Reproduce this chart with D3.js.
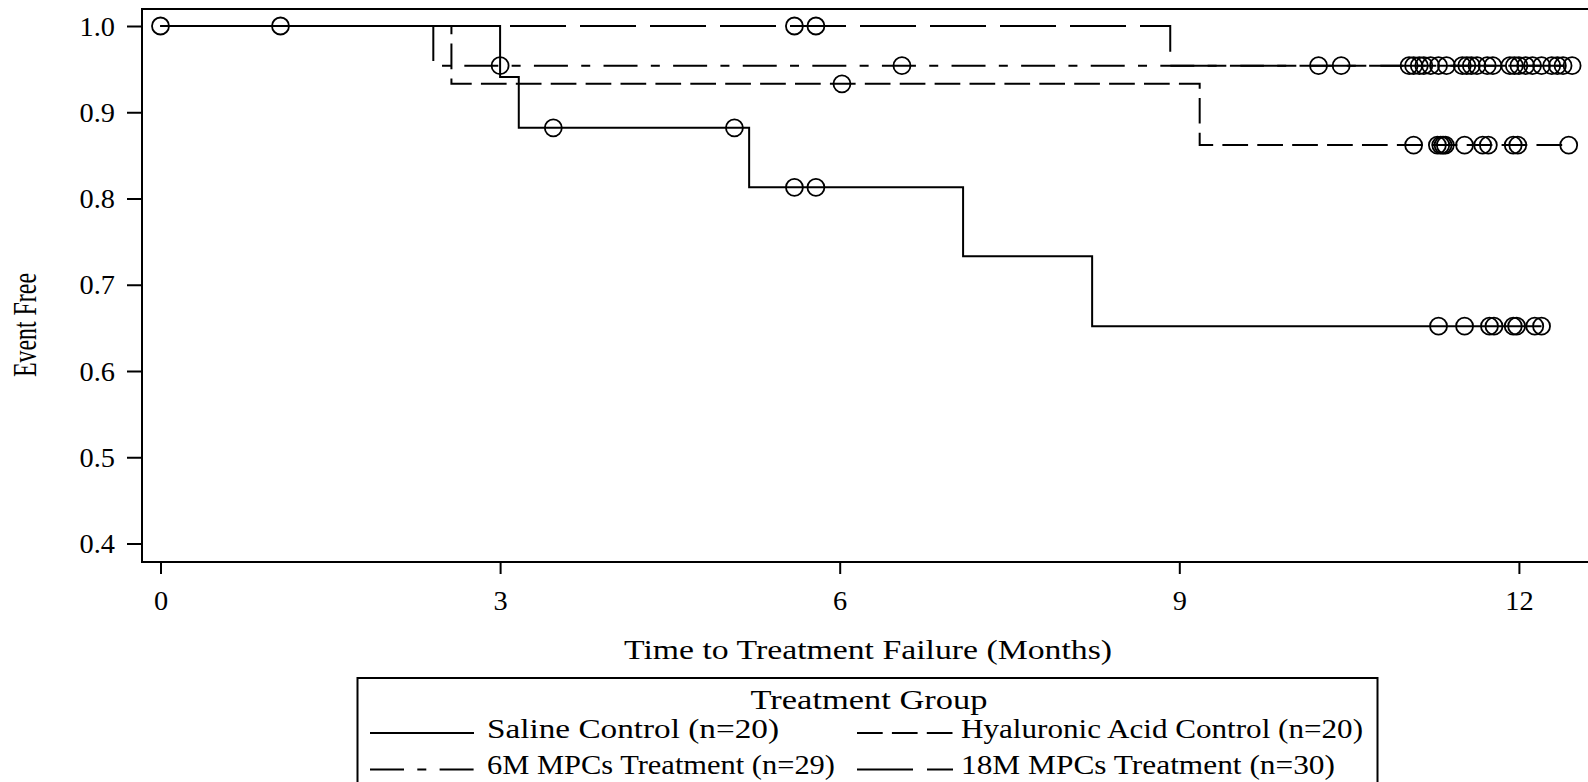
<!DOCTYPE html>
<html>
<head>
<meta charset="utf-8">
<script src="https://cdn.jsdelivr.net/npm/d3@7"></script>
<style>
  html, body { margin: 0; padding: 0; background: #fff; }
  svg { display: block; }
  text { font-family: "Liberation Serif", "Times New Roman", serif; fill: #000; }
</style>
</head>
<body>
<svg id="chart" width="1588" height="782"></svg>
<script>
// ---------------- DATA ----------------
const groupNames = ["Saline Control (n=20)", "Hyaluronic Acid Control (n=20)",
                    "6M MPCs Treatment (n=29)", "18M MPCs Treatment (n=30)"];
const legendTitle = "Treatment Group";
const xTitle = "Time to Treatment Failure (Months)";
const yTitle = "Event Free";
const xTicks = [0, 3, 6, 9, 12];
const yTicks = [0.4, 0.5, 0.6, 0.7, 0.8, 0.9, 1.0];

// step curves: time of each step and survival value from that time on
const salineTimes = [0, 3.0, 3.165, 5.20, 7.09, 8.23, 12.20];
const salineSurv  = [1.0, 0.941, 0.882, 0.813, 0.733, 0.652, 0.652];
const salineCensor = [0, 1.06, 3.47, 5.07, 5.60, 5.79, 11.29, 11.52, 11.74, 11.78, 11.95, 11.98, 12.14, 12.20];

const hyalTimes = [0, 2.57, 9.18, 12.44];
const hyalSurv  = [1.0, 0.933, 0.862, 0.862];
const hyalCensor = [6.02, 11.07, 11.28, 11.31, 11.33, 11.35, 11.52, 11.68, 11.73, 11.95, 11.99, 12.44];

const m6Times = [0, 2.41, 12.47];
const m6Surv  = [1.0, 0.954, 0.954];
const m6Censor = [3.0, 6.55, 11.03, 11.12, 11.22, 11.36, 11.54, 11.63, 11.77, 11.96, 12.06, 12.20, 12.34, 12.47];

const m18Times = [0, 8.92, 12.39];
const m18Surv  = [1.0, 0.954, 0.954];
const m18Censor = [5.60, 5.79, 10.23, 10.43, 11.07, 11.16, 11.29, 11.50, 11.58, 11.72, 11.92, 12.00, 12.12, 12.29, 12.39];

// ---------------- STYLE ----------------
const dashes  = [null, "25.7,9.2", "34,13.3,9,13.3", "56,14"];
const offsets = [0, 5.7, 4.5, 0.5];
const FS = 27;

const series = [
  {times: salineTimes, surv: salineSurv, censor: salineCensor},
  {times: hyalTimes,   surv: hyalSurv,   censor: hyalCensor},
  {times: m6Times,     surv: m6Surv,     censor: m6Censor},
  {times: m18Times,    surv: m18Surv,    censor: m18Censor}
];

const svg = d3.select("#chart");
const frame = {left: 142, right: 1600, top: 9, bottom: 562};

const x = d3.scaleLinear().domain([0, 12]).range([160.5, 160.5 + 113.2 * 12]);
const y = d3.scaleLinear().domain([0.4, 1.0]).range([543.5, 26]);

function survAt(s, t) {
  let v = s.surv[0];
  for (let i = 0; i < s.times.length; i++) if (s.times[i] <= t + 1e-9) v = s.surv[i];
  return v;
}

const plot = svg.append("g");

// curves
const line = d3.line().x(d => x(d[0])).y(d => y(d[1])).curve(d3.curveStepAfter);
series.forEach((s, i) => {
  const pts = s.times.map((t, k) => [t, s.surv[k]]);
  plot.append("path")
    .attr("d", line(pts))
    .attr("fill", "none")
    .attr("stroke", "#000")
    .attr("stroke-width", 2)
    .attr("stroke-dasharray", dashes[i])
    .attr("stroke-dashoffset", offsets[i]);
});

// censor circles
series.forEach((s, i) => {
  plot.selectAll(null).data(s.censor).enter().append("circle")
    .attr("cx", t => x(t))
    .attr("cy", t => y(survAt(s, t)))
    .attr("r", 8.5)
    .attr("fill", "none")
    .attr("stroke", "#000")
    .attr("stroke-width", 1.8);
});

// frame
svg.append("rect")
  .attr("x", frame.left).attr("y", frame.top)
  .attr("width", frame.right - frame.left).attr("height", frame.bottom - frame.top)
  .attr("fill", "none").attr("stroke", "#000").attr("stroke-width", 2);

// axes
const yAxis = svg.append("g").attr("transform", `translate(${frame.left},0)`)
  .call(d3.axisLeft(y).tickValues(yTicks).tickFormat(d3.format(".1f")).tickSize(15));
const xAxis = svg.append("g").attr("transform", `translate(0,${frame.bottom})`)
  .call(d3.axisBottom(x).tickValues(xTicks).tickFormat(d3.format("d")).tickSize(12));

[xAxis, yAxis].forEach(a => {
  a.select(".domain").remove();
  a.selectAll(".tick line").attr("stroke", "#000").attr("stroke-width", 2);
  a.selectAll(".tick text").attr("font-family", null).attr("fill", "#000")
    .style("font-size", FS + "px");
});
const TSX = 1.05;
yAxis.selectAll(".tick text")
  .attr("x", null).attr("dy", "0.34em").attr("text-anchor", "end")
  .attr("transform", `translate(-27,0) scale(${TSX},1)`);
xAxis.selectAll(".tick text")
  .attr("y", null).attr("dy", null).attr("text-anchor", "middle")
  .attr("transform", `translate(0,47.5) scale(${TSX},1)`);

// fitted text helper (original rendering is horizontally wide)
function fitText(g, str, x0, yb, len) {
  return g.append("text").text(str)
    .attr("x", x0).attr("y", yb)
    .attr("textLength", len).attr("lengthAdjust", "spacingAndGlyphs")
    .style("font-size", FS + "px");
}

// titles
fitText(svg, xTitle, 868 - 488 / 2, 659, 488);
svg.append("text").text(yTitle)
  .attr("x", -325 - 52).attr("y", 0)
  .attr("textLength", 104).attr("lengthAdjust", "spacingAndGlyphs")
  .style("font-size", "26px")
  .attr("transform", `translate(36,0) scale(1.3,1) rotate(-90)`);

// legend
const leg = svg.append("g");
leg.append("rect").attr("x", 357.5).attr("y", 678).attr("width", 1020).attr("height", 200)
  .attr("fill", "none").attr("stroke", "#000").attr("stroke-width", 2);
fitText(leg, legendTitle, 869 - 237 / 2, 709, 237);

const legPos = [
  {x1: 370, x2: 474, tx: 487, ly: 733, ty: 737.5, len: 292},
  {x1: 857, x2: 953, tx: 961, ly: 733, ty: 737.5, len: 402},
  {x1: 370, x2: 474, tx: 487, ly: 769.5, ty: 774, len: 348},
  {x1: 857, x2: 953, tx: 961, ly: 769.5, ty: 774, len: 374}
];
groupNames.forEach((g, i) => {
  const p = legPos[i];
  leg.append("line").attr("x1", p.x1).attr("x2", p.x2).attr("y1", p.ly).attr("y2", p.ly)
    .attr("stroke", "#000").attr("stroke-width", 1.8)
    .attr("stroke-dasharray", dashes[i]);
  fitText(leg, g, p.tx, p.ty, p.len);
});
</script>
</body>
</html>
